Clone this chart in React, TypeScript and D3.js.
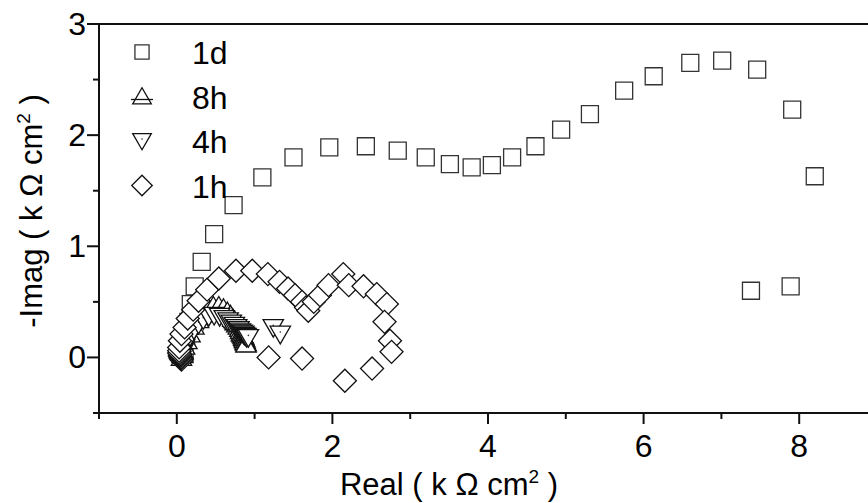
import React from 'react';
import * as d3 from 'd3';

// 1d, 8h, 4h, 1h impedance points [real, -imag] in k ohm cm2
const series1d: [number, number][] = [
  [0.10, 0.03], [0.12, 0.17], [0.15, 0.32], [0.18, 0.48], [0.23, 0.64], [0.32, 0.86],
  [0.48, 1.11], [0.73, 1.37], [1.10, 1.62], [1.50, 1.80], [1.96, 1.89], [2.43, 1.90],
  [2.84, 1.86], [3.20, 1.80], [3.51, 1.74], [3.79, 1.71], [4.05, 1.73], [4.31, 1.80],
  [4.61, 1.90], [4.94, 2.05], [5.31, 2.19], [5.75, 2.40], [6.13, 2.53], [6.60, 2.65],
  [7.01, 2.67], [7.46, 2.59], [7.91, 2.23], [8.20, 1.63], [7.89, 0.64], [7.38, 0.60],
];

const series8h: [number, number][] = [
  [0.06, 0.00], [0.07, 0.03], [0.08, 0.06], [0.10, 0.10], [0.13, 0.15], [0.17, 0.21],
  [0.22, 0.28], [0.28, 0.34], [0.34, 0.39], [0.40, 0.43], [0.47, 0.46], [0.54, 0.46],
  [0.60, 0.44], [0.65, 0.41], [0.69, 0.38], [0.72, 0.35], [0.75, 0.32], [0.77, 0.30],
  [0.79, 0.28], [0.81, 0.26], [0.82, 0.24], [0.83, 0.22], [0.84, 0.21], [0.85, 0.20],
  [0.86, 0.19], [0.86, 0.18], [0.87, 0.17], [0.87, 0.16], [0.88, 0.15], [0.88, 0.14],
  [0.89, 0.13], [0.89, 0.12],
];

const series4h: [number, number][] = [
  [0.05, -0.02], [0.06, 0.01], [0.08, 0.05], [0.10, 0.09], [0.13, 0.14], [0.17, 0.19],
  [0.22, 0.25], [0.28, 0.30], [0.34, 0.34], [0.41, 0.37], [0.48, 0.38], [0.55, 0.37],
  [0.61, 0.35], [0.66, 0.33], [0.70, 0.31], [0.74, 0.29], [0.77, 0.27], [0.80, 0.25],
  [0.82, 0.23], [0.84, 0.22], [0.86, 0.21], [0.87, 0.20], [0.89, 0.19], [0.90, 0.18],
  [0.92, 0.18], [1.24, 0.27], [1.33, 0.21],
];

const series1h: [number, number][] = [
  [0.06, -0.02], [0.05, -0.01], [0.05, 0.00], [0.04, 0.01], [0.04, 0.02], [0.04, 0.03],
  [0.03, 0.04], [0.03, 0.06], [0.03, 0.09], [0.04, 0.15], [0.06, 0.21], [0.10, 0.27],
  [0.14, 0.35], [0.21, 0.43], [0.28, 0.51], [0.39, 0.61], [0.54, 0.71], [0.76, 0.78],
  [0.97, 0.78], [1.17, 0.75], [1.32, 0.68], [1.43, 0.62], [1.52, 0.56], [1.61, 0.50],
  [1.66, 0.45], [1.69, 0.42], [1.76, 0.50], [1.84, 0.56], [1.95, 0.65], [2.14, 0.75],
  [2.21, 0.65], [2.40, 0.64], [2.57, 0.57], [2.70, 0.48], [2.67, 0.32], [2.74, 0.15],
  [2.76, 0.05], [2.51, -0.10], [2.16, -0.21], [1.61, -0.01], [1.18, 0.00],
];

const legendLabels = ['1d', '8h', '4h', '1h'];
const xTicks = [0, 2, 4, 6, 8];
const xMinorTicks = [-1, 1, 3, 5, 7];
const yTicks = [0, 1, 2, 3];
const yMinorTicks = [-0.5, 0.5, 1.5, 2.5];

const W = 868;
const H = 503;
const left = 99;
const right = 877;
const top = 24;
const bottom = 413;
const FONT = 'Liberation Sans, Arial, Helvetica, sans-serif';

const x = d3.scaleLinear().domain([-1, 9]).range([left, right]);
const y = d3.scaleLinear().domain([-0.5, 3]).range([bottom, top]);

const sq = d3.symbol().type(d3.symbolSquare).size(289)()!;
const dia = d3.symbol().type(d3.symbolSquare).size(265)()!;
const tri = d3.symbol().type(d3.symbolTriangle).size(180)()!;

const sqL = d3.symbol().type(d3.symbolSquare).size(200)()!;
const diaL = d3.symbol().type(d3.symbolSquare).size(210)()!;
const triL = d3.symbol().type(d3.symbolTriangle).size(150)()!;

const Marker = ({ kind, cx, cy, legend }: { kind: string; cx: number; cy: number; legend?: boolean }) => {
  const common = { fill: '#fff', stroke: '#111', strokeWidth: 1.3 };
  if (kind === '1d') return <path d={legend ? sqL : sq} transform={`translate(${cx},${cy})`} {...common} stroke="#333" />;
  if (kind === '1h') return <path d={legend ? diaL : dia} transform={`translate(${cx},${cy}) rotate(45)`} {...common} />;
  if (kind === '8h')
    return (
      <g transform={`translate(${cx},${cy + 2})`}>
        <path d={legend ? triL : tri} {...common} />
        {legend && <line x1={-11} x2={11} y1={1} y2={1} stroke="#111" strokeWidth={1.3} />}
      </g>
    );
  return (
    <g transform={`translate(${cx},${cy - 2}) rotate(180)`}>
      <path d={legend ? triL : tri} {...common} />
      <circle r={0.8} fill="#333" />
    </g>
  );
};

const App = () => {
  const groups: [string, [number, number][]][] = [
    ['1d', series1d],
    ['8h', series8h],
    ['4h', series4h],
    ['1h', series1h],
  ];
  return (
    <svg width={W} height={H} style={{ position: 'absolute', left: 0, top: 0, background: '#fff' }} fontFamily={FONT}>
      {/* frame */}
      <line x1={left} x2={right} y1={top} y2={top} stroke="#111" strokeWidth={2} />
      <line x1={right} x2={right} y1={top} y2={bottom} stroke="#111" strokeWidth={2} />

      {groups.map(([k, pts]) => (
        <g key={k}>
          {pts.map((p, i) => (
            <Marker key={i} kind={k} cx={x(p[0])} cy={y(p[1])} />
          ))}
        </g>
      ))}

      {/* axes */}
      <line x1={left - 5} x2={right} y1={bottom} y2={bottom} stroke="#111" strokeWidth={2} />
      <line x1={left} x2={left} y1={top} y2={bottom + 5} stroke="#111" strokeWidth={2} />
      {xTicks.map((t) => (
        <g key={t}>
          <line x1={x(t)} x2={x(t)} y1={bottom} y2={bottom + 11} stroke="#111" strokeWidth={2} />
          <text x={x(t)} y={457} fontSize={32} textAnchor="middle" fill="#000">{t}</text>
        </g>
      ))}
      {xMinorTicks.map((t) => (
        <line key={t} x1={x(t)} x2={x(t)} y1={bottom} y2={bottom + 6} stroke="#111" strokeWidth={2} />
      ))}
      {yTicks.map((t) => (
        <g key={t}>
          <line x1={left - 12} x2={left} y1={y(t)} y2={y(t)} stroke="#111" strokeWidth={2} />
          <text x={86} y={y(t) + 11} fontSize={32} textAnchor="end" fill="#000">{t}</text>
        </g>
      ))}
      {yMinorTicks.map((t) => (
        <line key={t} x1={left - 6} x2={left} y1={y(t)} y2={y(t)} stroke="#111" strokeWidth={2} />
      ))}

      {/* axis titles */}
      <text x={449} y={495} fontSize={31} textAnchor="middle" fill="#000">
        Real ( k Ω cm<tspan fontSize={19} dy={-12}>2</tspan><tspan dy={12}> )</tspan>
      </text>
      <text transform="translate(42,211) rotate(-90)" fontSize={31} textAnchor="middle" fill="#000">
        -Imag ( k Ω cm<tspan fontSize={19} dy={-12}>2</tspan><tspan dy={12}> )</tspan>
      </text>

      {/* legend */}
      {legendLabels.map((lab, i) => (
        <g key={lab}>
          <Marker kind={lab} cx={142} cy={52 + i * 44.5} legend />
          <text x={192} y={52 + i * 44.5 + 12} fontSize={32} fill="#000">{lab}</text>
        </g>
      ))}
    </svg>
  );
};

export default App;
